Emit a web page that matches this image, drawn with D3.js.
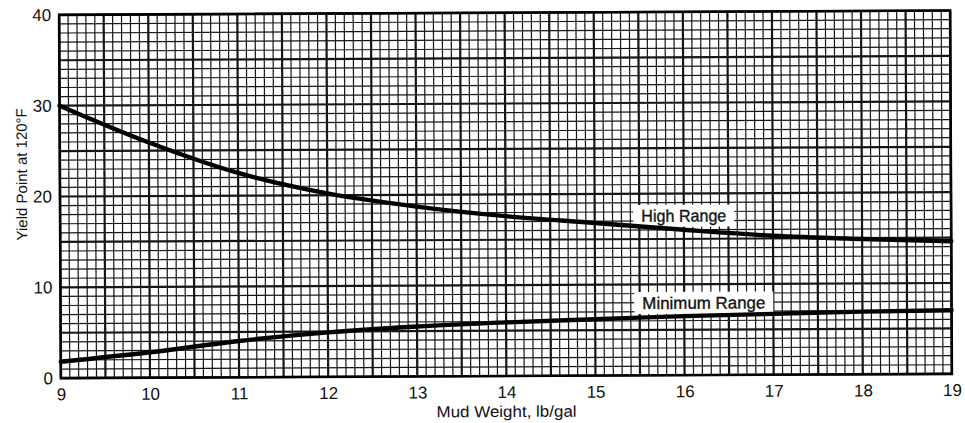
<!DOCTYPE html>
<html>
<head>
<meta charset="utf-8">
<script src="https://cdn.jsdelivr.net/npm/d3@7"></script>
<style>
  html, body { margin: 0; padding: 0; background: #fff; }
  svg { display: block; }
  text { font-family: "Liberation Sans", Arial, Helvetica, sans-serif; fill: #111; }
</style>
</head>
<body>
<div id="chart"></div>
<script>
// ---- data ----
const mudWeight    = [9, 10, 11, 12, 13, 14, 15, 16, 17, 18, 19];
const highRange    = [30.0, 25.9, 22.5, 20.2, 18.7, 17.6, 16.8, 16.0, 15.3, 14.9, 14.6];
const minimumRange = [1.8, 2.8, 4.0, 4.9, 5.5, 5.9, 6.2, 6.5, 6.7, 6.9, 7.0];
const xTickValues  = [9, 10, 11, 12, 13, 14, 15, 16, 17, 18, 19];
const yTickValues  = [0, 10, 20, 30, 40];
const seriesNames  = ["High Range", "Minimum Range"];
const labelAnchors = [[16.0, 16.9], [16.22, 7.3]];
const xTitle = "Mud Weight, lb/gal";
const yTitle = "Yield Point at 120°F";

// ---- layout ----
const W = 965, H = 423;
const m = { left: 60, right: 14, top: 12.7, bottom: 47 };
const pw = W - m.left - m.right, ph = H - m.top - m.bottom;

const svg = d3.select("#chart").append("svg").attr("width", W).attr("height", H);
// scanned original is slightly tilted
const root = svg.append("g").attr("transform", `rotate(-0.277, ${m.left + pw / 2}, ${m.top + ph / 2})`);
const g = root.append("g").attr("transform", `translate(${m.left},${m.top})`);

const x = d3.scaleLinear().domain([9, 19]).range([0, pw]);
const y = d3.scaleLinear().domain([0, 40]).range([ph, 0]);

// ---- grid ----
const grid = g.append("g");
const xMinor = d3.range(0, 101).map(i => 9 + i / 10);
const yMinor = d3.range(0, 41);
grid.selectAll(".vx").data(xMinor).join("line")
  .attr("x1", d => x(d)).attr("x2", d => x(d)).attr("y1", 0).attr("y2", ph)
  .attr("stroke", "#151515")
  .attr("stroke-width", (d, i) => (i % 5 === 0) ? 2.2 : 1.2);
grid.selectAll(".hy").data(yMinor).join("line")
  .attr("y1", d => y(d)).attr("y2", d => y(d)).attr("x1", 0).attr("x2", pw)
  .attr("stroke", "#151515")
  .attr("stroke-width", d => (d % 5 === 0) ? 2.2 : 1.2);

// ---- frame ----
g.append("rect").attr("x", 0).attr("y", 0).attr("width", pw).attr("height", ph)
  .attr("fill", "none").attr("stroke", "#000").attr("stroke-width", 2.6);

// ---- axes (labels only) ----
const xAxis = d3.axisBottom(x).tickValues(xTickValues).tickSize(0).tickPadding(10).tickFormat(d3.format("d"));
const xa = g.append("g").attr("transform", `translate(0,${ph})`).call(xAxis);
xa.select(".domain").remove();
xa.selectAll("text").attr("font-size", 17).attr("fill", "#111").attr("dy", "0.71em")
  .attr("y", 10);

const yAxis = d3.axisLeft(y).tickValues(yTickValues).tickSize(0).tickPadding(8).tickFormat(d3.format("d"));
const ya = g.append("g").call(yAxis);
ya.select(".domain").remove();
ya.selectAll("text").attr("font-size", 17).attr("fill", "#111");

// ---- curve labels (white patches under the curves) ----
const lengths = [85, 123];
seriesNames.forEach((name, i) => {
  const cx = x(labelAnchors[i][0]), by = y(labelAnchors[i][1]);
  const lg = g.append("g");
  lg.append("rect")
    .attr("x", cx - lengths[i] / 2 - 8).attr("y", by - 17)
    .attr("width", lengths[i] + 16).attr("height", 22).attr("fill", "#fff");
  lg.append("text").attr("x", cx).attr("y", by).attr("text-anchor", "middle")
    .attr("font-size", 17).attr("textLength", lengths[i]).attr("lengthAdjust", "spacingAndGlyphs")
    .attr("stroke", "#111").attr("stroke-width", 0.35)
    .text(name);
});

// ---- curves ----
const line = d3.line().x(d => x(d[0])).y(d => y(d[1])).curve(d3.curveMonotoneX);
const series = [highRange, minimumRange];
g.selectAll(".curve").data(series).join("path")
  .attr("d", vals => line(mudWeight.map((w, i) => [w, vals[i]])))
  .attr("fill", "none").attr("stroke", "#000").attr("stroke-width", 4.4)
  .attr("stroke-linecap", "round");

// ---- titles ----
root.append("text").attr("x", m.left + x(14)).attr("y", 417).attr("text-anchor", "middle")
  .attr("font-size", 16).attr("textLength", 140).attr("lengthAdjust", "spacingAndGlyphs").text(xTitle);
root.append("text").attr("transform", "translate(27,172) rotate(-90)").attr("text-anchor", "middle")
  .attr("font-size", 15).text(yTitle);
</script>
</body>
</html>
